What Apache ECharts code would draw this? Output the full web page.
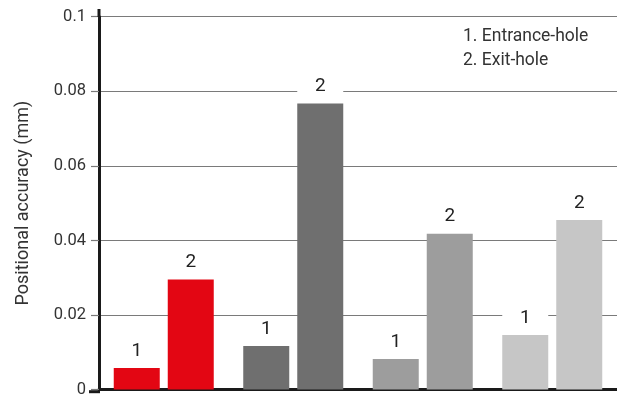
<!DOCTYPE html>
<html>
<head>
<meta charset="utf-8">
<script src="https://cdn.jsdelivr.net/npm/echarts@6/dist/echarts.min.js"></script>
<style>
  html, body { margin: 0; padding: 0; background: #fff; }
  #chart { width: 617px; height: 398px; }
</style>
</head>
<body>
<div id="chart"></div>
<script>
// Four drill groups, each with an entrance-hole (1) and exit-hole (2) measurement
const categories = ['A', 'B', 'C', 'D'];
const entranceHole = [0.0058, 0.0117, 0.0082, 0.0146];
const exitHole = [0.0295, 0.0767, 0.0418, 0.0455];
const groupColors = ['#e30613', '#6f6f6f', '#9d9d9d', '#c6c6c6'];
const yTicks = [0, 0.02, 0.04, 0.06, 0.08, 0.1];
const legendLines = ['1. Entrance-hole', '2. Exit-hole'];

const FONT = 'Roboto';

function barData(values) {
  return values.map((v, i) => ({ value: v, itemStyle: { color: groupColors[i] } }));
}

function barLabel(text) {
  return {
    show: true,
    position: 'top',
    distance: 5,
    formatter: text,
    fontFamily: FONT,
    fontSize: 19,
    lineHeight: 22,
    color: '#222',
    backgroundColor: '#fff',
    width: 46,
    align: 'center',
    padding: [1, 0, 1, 0]
  };
}

const chart = echarts.init(document.getElementById('chart'), null, { renderer: 'canvas' });

chart.setOption({
  animation: false,
  grid: { left: 99, top: 16.7, width: 520, height: 375 },
  xAxis: {
    type: 'category',
    data: categories,
    axisLine: { show: true, lineStyle: { color: '#1a1a1a', width: 3 } },
    axisTick: { show: false },
    axisLabel: { show: false }
  },
  yAxis: {
    type: 'value',
    min: 0,
    max: 0.1,
    interval: 0.02,
    name: 'Positional accuracy (mm)',
    nameLocation: 'middle',
    nameGap: 67,
    nameTextStyle: { fontFamily: FONT, fontSize: 18, color: '#333' },
    axisLine: { show: true, lineStyle: { color: '#1a1a1a', width: 3 } },
    axisTick: { show: true, length: 8, lineStyle: { color: '#7a7a7a', width: 1.2 } },
    axisLabel: {
      fontFamily: FONT,
      fontSize: 16.5,
      color: '#333',
      margin: 13,
      formatter: v => {
        const t = yTicks.find(x => Math.abs(x - v) < 1e-9);
        return t === undefined ? '' : String(+t.toFixed(2));
      }
    },
    splitLine: { show: true, lineStyle: { color: '#7a7a7a', width: 1.2 } }
  },
  series: [
    {
      name: '1',
      type: 'bar',
      data: barData(entranceHole),
      barWidth: 46,
      barGap: '17.4%',
      label: barLabel('1'),
      z: 3
    },
    {
      name: '2',
      type: 'bar',
      data: barData(exitHole),
      barWidth: 46,
      barGap: '17.4%',
      label: barLabel('2'),
      z: 3
    }
  ],
  graphic: [
    // axis lines run slightly past the plot corner
    { type: 'line', shape: { x1: 99, y1: 9, x2: 99, y2: 17 }, style: { stroke: '#1a1a1a', lineWidth: 3 }, z: 10 },
    { type: 'line', shape: { x1: 89, y1: 391.7, x2: 100, y2: 391.7 }, style: { stroke: '#1a1a1a', lineWidth: 3 }, z: 10 },
    {
      type: 'group',
      left: 463,
      top: 28,
      z: 20,
      children: legendLines.map((t, i) => ({
        type: 'text',
        x: 0,
        y: i * 24,
        style: { text: t, fontFamily: FONT, fontSize: 17.5, fill: '#333', letterSpacing: 0.3 }
      }))
    }
  ]
});
</script>
</body>
</html>
